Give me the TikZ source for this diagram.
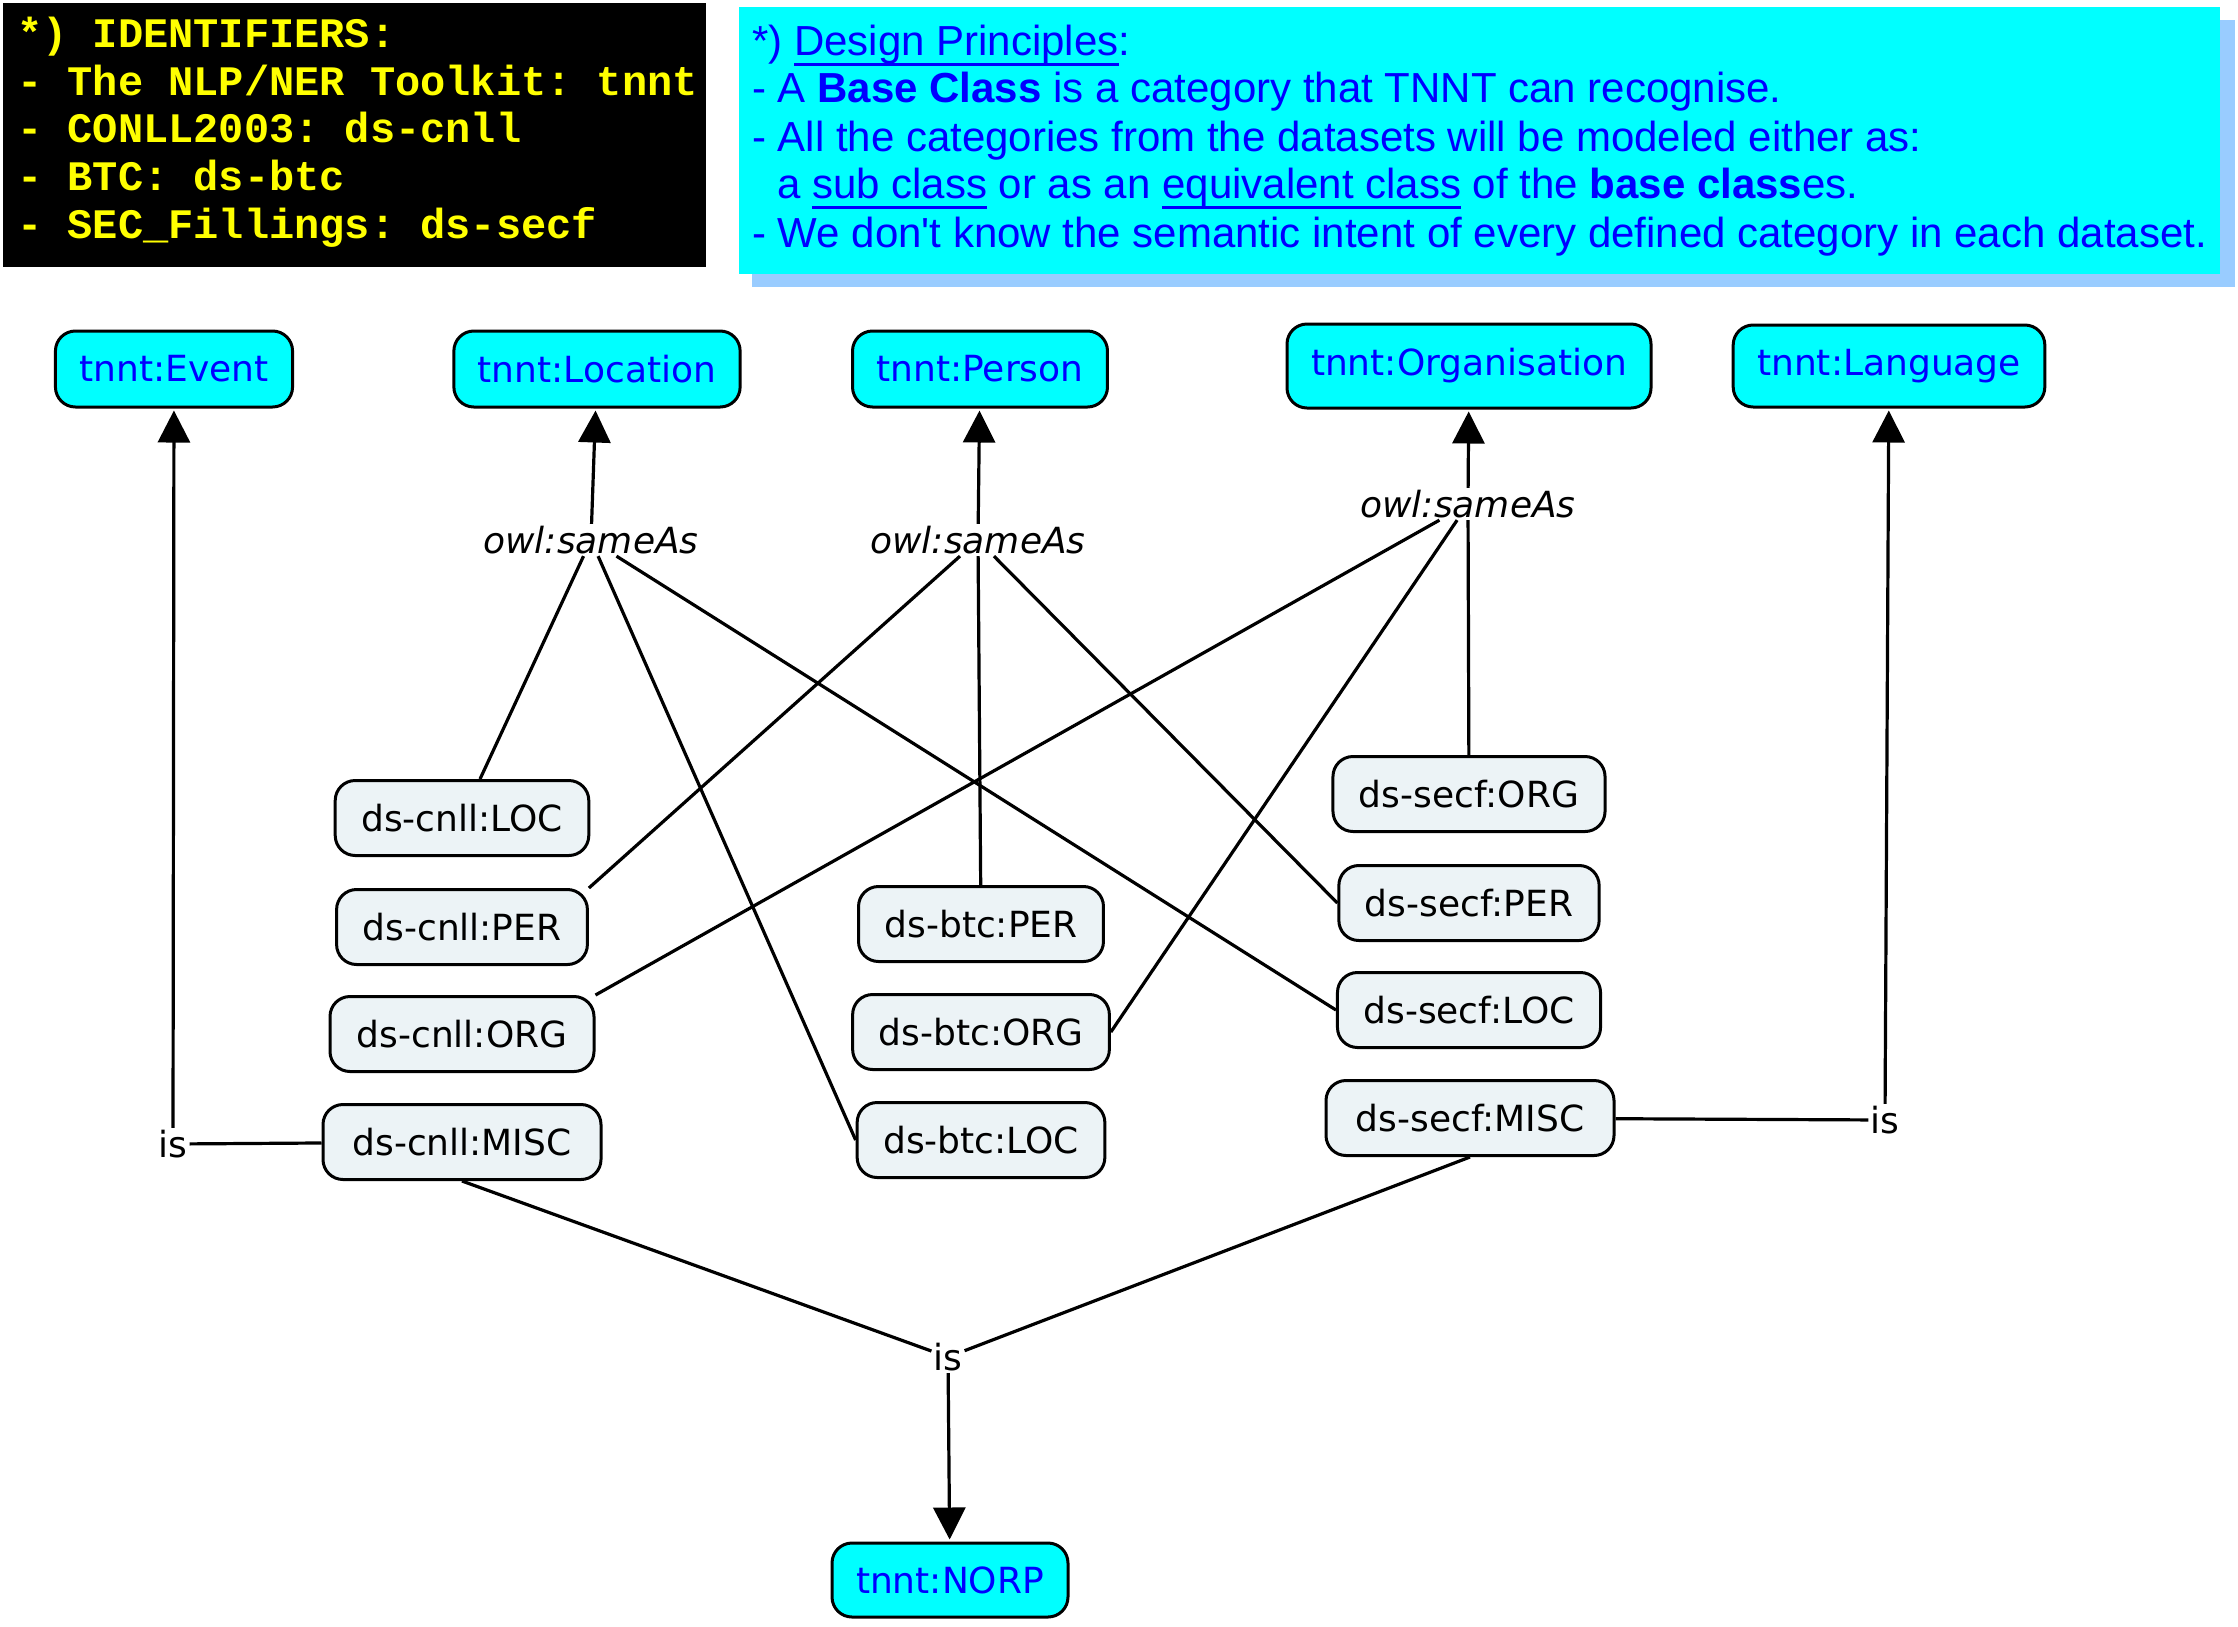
\documentclass[tikz,border=0pt]{standalone}
\usepackage{fontspec}
\usetikzlibrary{arrows.meta}
\newfontfamily\dvsans{DejaVu Sans}
\newfontfamily\arialf{Liberation Sans}
\newfontfamily\courf{Liberation Mono}
\definecolor{nodegrey}{RGB}{236,243,246}
\definecolor{shadowblue}{RGB}{153,204,255}
\definecolor{txtblue}{RGB}{0,0,255}
\definecolor{yel}{RGB}{255,255,0}
\definecolor{cyanfill}{RGB}{0,255,255}
\frenchspacing
\newcommand{\ulx}[1]{\setbox0\hbox{#1}\rlap{\rule[-11pt]{\wd0}{3.2pt}}\box0{}}
\tikzset{
  basecls/.style={draw, line width=3pt, rounded corners=20pt, fill=cyanfill, text=txtblue,
    font=\dvsans\fontsize{36}{43}\selectfont, minimum height=76pt, inner xsep=24pt, inner ysep=0pt},
  subcls/.style={draw, line width=3pt, rounded corners=20pt, fill=nodegrey, text=black,
    font=\dvsans\fontsize{36}{43}\selectfont, minimum height=75pt, inner xsep=26pt, inner ysep=0pt},
  rel/.style={font=\dvsans\fontsize{36}{43}\selectfont, inner sep=2pt},
  relit/.style={font=\dvsans\itshape\fontsize{36}{43}\selectfont, inner sep=2pt},
  conn/.style={line width=3.2pt},
  arr/.style={line width=3.2pt, -{Triangle[length=32pt,width=32pt]}, shorten >=2pt},
  monoline/.style={anchor=base west, inner sep=0pt, text=yel, font=\courf\bfseries\fontsize{42}{48}\selectfont},
  dpline/.style={anchor=base west, inner sep=0pt, text=txtblue, font=\arialf\fontsize{42}{48}\selectfont},
}
\begin{document}
\begin{tikzpicture}[x=1pt,y=-1pt]
\useasboundingbox (0,0) rectangle (2238,1626);
% identifiers box
\fill[black] (3,3) rectangle (706,267);
\node[monoline] (id1) at (17,47) {*) IDENTIFIERS:};
\node[monoline] (id2) at (17,95) {- The NLP/NER Toolkit: tnnt};
\node[monoline] (id3) at (17,142) {- CONLL2003: ds-cnll};
\node[monoline] (id4) at (17,190) {- BTC: ds-btc};
\node[monoline] (id5) at (17,238) {- SEC\_Fillings: ds-secf};
% design principles box
\fill[shadowblue] (752,20) rectangle (2235,287);
\fill[cyanfill] (739,7) rectangle (2220,274);
\node[dpline] (dp1) at (752,55) {*) \ulx{Design Principles}:};
\node[dpline] (dp2) at (752,102) {- A \textbf{Base Class} is a category that TNNT can recognise.};
\node[dpline] (dp3) at (752,151) {- All the categories from the datasets will be modeled either as:};
\node[dpline] (dp4) at (777,198) {a \ulx{sub class} or as an \ulx{equivalent class} of the \textbf{base class}es.};
\node[dpline] (dp5) at (752,247) {- We don\textquotesingle t know the semantic intent of every defined category in each dataset.};
% base classes
\node[basecls] (event) at (174,369) {tnnt:Event};
\node[basecls] (loc) at (597,369) {tnnt:Location};
\node[basecls] (per) at (980,369) {tnnt:Person};
\node[basecls, minimum height=84pt] (org) at (1469,366) {tnnt:Organisation};
\node[basecls, minimum height=82pt] (lang) at (1889,366) {tnnt:Language};
\node[basecls, minimum height=74pt] (norp) at (950,1580) {tnnt:NORP};
% dataset classes
\node[subcls] (cloc) at (462,818) {ds-cnll:LOC};
\node[subcls] (cper) at (462,927) {ds-cnll:PER};
\node[subcls, minimum width=264pt] (corg) at (462,1034) {ds-cnll:ORG};
\node[subcls, minimum width=278pt] (cmisc) at (462,1142) {ds-cnll:MISC};
\node[subcls] (bper) at (981,924) {ds-btc:PER};
\node[subcls] (borg) at (981,1032) {ds-btc:ORG};
\node[subcls] (bloc) at (981,1140) {ds-btc:LOC};
\node[subcls] (sorg) at (1469,794) {ds-secf:ORG};
\node[subcls] (sper) at (1469,903) {ds-secf:PER};
\node[subcls] (sloc) at (1469,1010) {ds-secf:LOC};
\node[subcls, minimum width=288pt] (smisc) at (1470,1118) {ds-secf:MISC};
% relation labels
\node[relit] (same1) at (591,540) {owl:sameAs};
\node[relit] (same2) at (978,540) {owl:sameAs};
\node[relit] (same3) at (1468,504) {owl:sameAs};
\node[rel] (is1) at (173,1144) {is};
\node[rel] (is2) at (1885,1120) {is};
\node[rel] (is3) at (948,1357) {is};
% connectors
\draw[arr] (same1) -- (loc);
\draw[conn] (same1) -- (cloc);
\draw[conn] (same1) -- (bloc.west);
\draw[conn] (same1) -- (sloc.west);
\draw[arr] (same2) -- (per);
\draw[conn] (same2) -- (cper.north east);
\draw[conn] (same2) -- (bper);
\draw[conn] (same2) -- (sper.west);
\draw[arr] (same3) -- (org);
\draw[conn] (same3) -- (corg.north east);
\draw[conn] (same3) -- (borg.east);
\draw[conn] (same3) -- (sorg);
\draw[conn] (cmisc) -- (is1);
\draw[arr] (is1) -- (event);
\draw[conn] (smisc) -- (is2);
\draw[arr] (is2) -- (lang);
\draw[conn] (cmisc.south) -- (is3);
\draw[conn] (smisc.south) -- (is3);
\draw[arr] (is3) -- (norp);
\end{tikzpicture}
\end{document}
